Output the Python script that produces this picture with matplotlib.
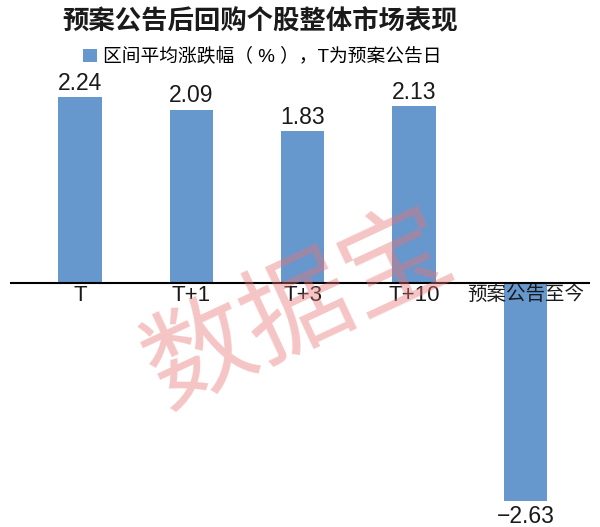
import matplotlib.pyplot as plt

plt.rcParams['font.family'] = ['Liberation Sans', 'Noto Sans CJK SC', 'DejaVu Sans']

categories = ['T', 'T+1', 'T+3', 'T+10', '预案公告至今']
values = [2.24, 2.09, 1.83, 2.13, -2.63]
title = '预案公告后回购个股整体市场表现'
legend_label = '区间平均涨跌幅（ % ），T为预案公告日'

bar_color = '#6697CD'

fig = plt.figure(figsize=(6, 5.27), dpi=100)
# axes spans pixel x 10..590, y 80..510 (from top)
ax = fig.add_axes([10 / 600, 1 - 510 / 527, 580 / 600, 430 / 527])

x = list(range(len(categories)))
bars = ax.bar(x, values, width=0.39, color=bar_color, zorder=2)

ax.set_xlim(-0.63, 4.58)
ax.set_ylim(-2.735, 2.446)
ax.axhline(0, color='black', lw=1.5, zorder=3)

for xi, v in zip(x, values):
    if v >= 0:
        ax.text(xi, v + 0.03, f'{v:.2f}', ha='center', va='bottom', fontsize=16.5, color='#1a1a1a')
    else:
        ax.text(xi, v - 0.04, f'\u2212{abs(v):.2f}', ha='center', va='top', fontsize=16.5, color='#1a1a1a')

for xi, c in zip(x, categories):
    size = 14 if c[0] == '预' else 16
    ax.text(xi, -0.03, c, ha='center', va='top', fontsize=size, color='#1a1a1a', zorder=4)

for s in ax.spines.values():
    s.set_visible(False)
ax.set_xticks([])
ax.set_yticks([])

fig.text(260 / 600, 1 - 22 / 527, title, ha='center', va='center', fontsize=19, fontweight='bold', color='#1a1a1a')
fig.legend([bars], [legend_label], loc='center', bbox_to_anchor=(262 / 600, 1 - 57 / 527),
           frameon=False, fontsize=13.5, handlelength=0.75, handleheight=0.75, handletextpad=0.3)

# watermark
fig.text(300 / 600, 1 - 312 / 527, '数据宝', ha='center', va='center', fontsize=78,
         rotation=25, color='#E87575', alpha=0.42, zorder=10)

fig.savefig('out.png', dpi=100)
